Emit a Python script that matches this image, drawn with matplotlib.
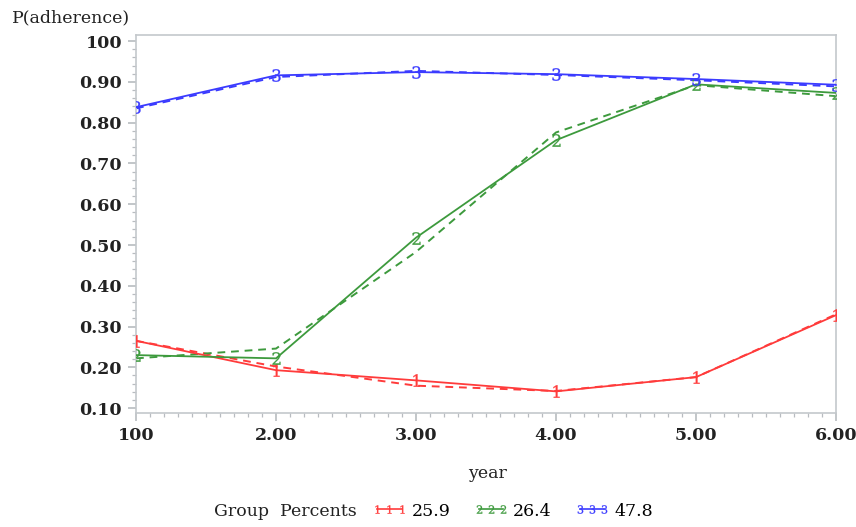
import matplotlib
matplotlib.use("Agg")
import matplotlib.pyplot as plt
from matplotlib.ticker import FixedLocator, MultipleLocator
from matplotlib.lines import Line2D

plt.rcParams["font.family"] = ["DejaVu Serif"]
plt.rcParams["mathtext.fontset"] = "dejavuserif"

years = [1, 2, 3, 4, 5, 6]
# solid = estimated, dashed = observed
g1_est = [0.265, 0.193, 0.168, 0.141, 0.176, 0.328]
g1_obs = [0.265, 0.202, 0.155, 0.142, 0.176, 0.330]
g2_est = [0.230, 0.222, 0.518, 0.757, 0.894, 0.873]
g2_obs = [0.222, 0.246, 0.483, 0.776, 0.892, 0.865]
g3_est = [0.838, 0.916, 0.924, 0.919, 0.907, 0.893]
g3_obs = [0.835, 0.912, 0.927, 0.917, 0.904, 0.889]
groups = ["25.9", "26.4", "47.8"]
colors = ["#ff3b3b", "#3d9a3d", "#3b3bff"]
marks = ["$1$", "$2$", "$3$"]

y_ticks = [0.1, 0.2, 0.3, 0.4, 0.5, 0.6, 0.7, 0.8, 0.9, 1.0]
y_labels = ["0.10", "0.20", "0.30", "0.40", "0.50", "0.60", "0.70", "0.80", "0.90", "100"]
x_labels = ["100", "2.00", "3.00", "4.00", "5.00", "6.00"]

fig = plt.figure(figsize=(8.56, 5.27), dpi=100)
ax = fig.add_axes([136 / 856, 1 - 413 / 527, 700 / 856, 378 / 527])

series = [(g1_est, g1_obs), (g2_est, g2_obs), (g3_est, g3_obs)]
for (est, obs), c, m in zip(series, colors, marks):
    ax.plot(years, obs, color=c, lw=1.4, ls=(0, (4, 3)), zorder=2)
    ax.plot(years, est, color=c, lw=1.3, marker=m, ms=9, mew=0.2, zorder=3)

ax.set_xlim(1, 6)
ax.set_ylim(0.088, 1.015)
ax.xaxis.set_major_locator(FixedLocator(years))
ax.set_xticklabels(x_labels)
ax.xaxis.set_minor_locator(MultipleLocator(0.1))
ax.yaxis.set_major_locator(FixedLocator(y_ticks))
ax.set_yticklabels(y_labels)
ax.yaxis.set_minor_locator(MultipleLocator(0.02))

for s in ax.spines.values():
    s.set_color("#c4c8cc")
    s.set_linewidth(1.2)
ax.tick_params(which="both", color="#b8bcc0")
ax.tick_params(which="major", length=6, width=1.2, labelsize=12.5, pad=4)
ax.tick_params(which="minor", length=3, width=0.9)
for lab in ax.get_xticklabels() + ax.get_yticklabels():
    lab.set_fontweight("bold")
    lab.set_color("#222222")

fig.text(12 / 856, 1 - 18 / 527, "P(adherence)", fontsize=12.5, va="center", ha="left",
         color="#222222")
fig.text(488 / 856, 1 - 474 / 527, "year", fontsize=12.5, va="center", ha="center",
         color="#222222")
fig.text(214 / 856, 1 - 511 / 527, "Group  Percents", fontsize=12.5, va="center", ha="left",
         color="#222222")

handles = [Line2D([], [], color=c, lw=1.2, marker=m, ms=6, mew=0.2)
           for c, m in zip(colors, marks)]
fig.legend(handles, groups, loc="center left", bbox_to_anchor=(372 / 856, 1 - 511 / 527),
           ncol=3, frameon=False, numpoints=3, handlelength=2.0, handletextpad=0.3,
           columnspacing=1.3, fontsize=12.5, borderaxespad=0, borderpad=0)

fig.savefig("out.png", dpi=100)
